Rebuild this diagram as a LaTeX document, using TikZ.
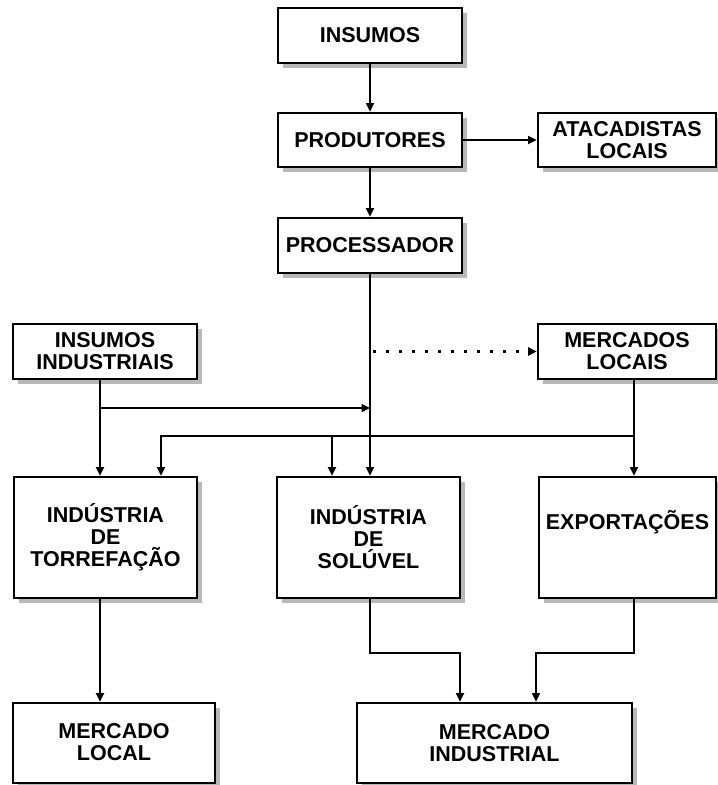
\documentclass[tikz,border=0pt]{standalone}
\usepackage{fontspec}
\setmainfont{Liberation Sans}
\usetikzlibrary{arrows.meta,shadows}
\begin{document}
\begin{tikzpicture}[x=1pt,y=-1pt,
  box/.style={draw, line width=2.6pt, fill=white, align=center, inner sep=0pt,
    font=\bfseries\fontsize{21.5}{22}\selectfont,
    general shadow={fill=black!28, shadow xshift=5pt, shadow yshift=-5pt}},
  conn/.style={line width=1.7pt, -{Triangle[length=8.5pt,width=8pt]}},
  plain/.style={line width=1.7pt}]
\useasboundingbox (0,0) rectangle (718,785);
\node[box, minimum width=184pt, minimum height=55pt] (ins) at (370,35.5) {INSUMOS};
\node[box, minimum width=184pt, minimum height=54pt] (prod) at (370,140) {PRODUTORES};
\node[box, minimum width=178pt, minimum height=54pt] (atac) at (627,140) {ATACADISTAS\\LOCAIS};
\node[box, minimum width=184pt, minimum height=55pt] (proc) at (370,245.5) {PROCESSADOR};
\node[box, minimum width=184pt, minimum height=55pt] (insind) at (105,351.5) {INSUMOS\\INDUSTRIAIS};
\node[box, minimum width=178pt, minimum height=55pt] (merc) at (627,351.5) {MERCADOS\\LOCAIS};
\node[box, minimum width=183pt, minimum height=121pt] (torr) at (105.5,537.5) {INDÚSTRIA\\DE\\TORREFAÇÃO};
\node[box, minimum width=183pt, minimum height=121pt] (sol) at (368.5,537.5) {INDÚSTRIA\\DE\\SOLÚVEL};
\node[box, minimum width=177pt, minimum height=121pt] (exp) at (627.5,537.5) {EXPORTAÇÕES\\[14pt]};
\node[box, minimum width=202pt, minimum height=80pt] (ml) at (114,743) {\\[-8pt]MERCADO\\LOCAL};
\node[box, minimum width=275pt, minimum height=80pt] (mi) at (494.5,743) {MERCADO\\INDUSTRIAL};
% helper coordinates
\coordinate (xa) at (100,0);
\coordinate (xb) at (634,0);
\coordinate (xc) at (161,0);
\coordinate (xd) at (332,0);
\coordinate (xf) at (460,0);
\coordinate (xg) at (536,0);
\coordinate (r1) at (0,408);
\coordinate (r2) at (0,436);
\coordinate (r3) at (0,653);
% connectors
\draw[conn] (ins.south) -- (prod.north);
\draw[conn] (prod.east) -- (atac.west);
\draw[conn] (prod.south) -- (proc.north);
\draw[conn] (proc.south) -- (proc.south |- sol.north);
\coordinate (dotstart) at ([xshift=3pt]proc.south |- merc.west);
\draw[conn, line width=2.2pt, dash pattern=on 3pt off 10pt] (dotstart) -- (merc.west);
\draw[conn] (insind.south -| xa) -- (torr.north -| xa);
\draw[conn] (xa |- r1) -- (proc.south |- r1);
\draw[conn] (merc.south -| xb) -- (exp.north -| xb);
\draw[conn] (xb |- r2) -| (torr.north -| xc);
\draw[conn] (xd |- r2) -- (sol.north -| xd);
\draw[conn] (torr.south -| xa) -- (ml.north -| xa);
\draw[conn] (sol.south -| proc.south) |- (xf |- r3) -- (mi.north -| xf);
\draw[conn] (exp.south -| xb) |- (xg |- r3) -- (mi.north -| xg);
\end{tikzpicture}
\end{document}
